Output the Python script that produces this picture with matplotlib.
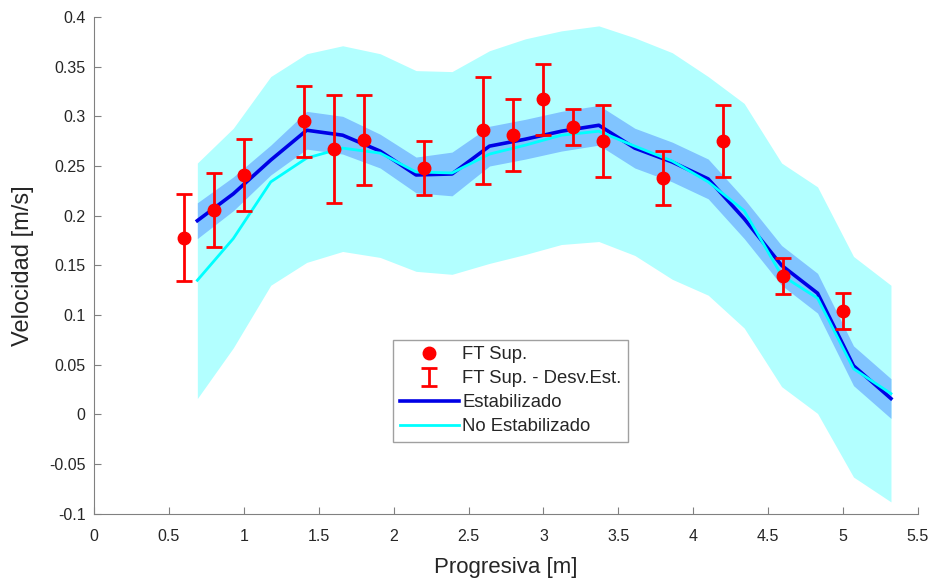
import matplotlib
matplotlib.use('Agg')
import matplotlib.pyplot as plt
import numpy as np

plt.rcParams['font.family'] = ['Liberation Sans', 'DejaVu Sans']

#%% Data
# progressive positions of the averaged curves
prog = [0.69, 0.93, 1.18, 1.42, 1.66, 1.91, 2.15, 2.39, 2.64, 2.88,
        3.12, 3.37, 3.61, 3.86, 4.10, 4.34, 4.59, 4.83, 5.07, 5.32]

# stabilized mean velocity and its band
v_estab = [0.195, 0.222, 0.256, 0.286, 0.281, 0.265, 0.241, 0.242, 0.270, 0.277,
           0.285, 0.291, 0.268, 0.254, 0.237, 0.197, 0.150, 0.122, 0.049, 0.016]
sd_estab = [0.018, 0.017, 0.015, 0.019, 0.019, 0.017, 0.018, 0.022, 0.020, 0.020,
            0.020, 0.020, 0.020, 0.020, 0.020, 0.020, 0.020, 0.020, 0.020, 0.020]

# non stabilized mean velocity and its band
v_noestab = [0.135, 0.177, 0.234, 0.258, 0.268, 0.263, 0.244, 0.243, 0.262, 0.271,
             0.281, 0.285, 0.270, 0.255, 0.234, 0.205, 0.140, 0.117, 0.046, 0.021]
band_up = [0.253, 0.288, 0.340, 0.363, 0.371, 0.363, 0.346, 0.345, 0.366, 0.378,
           0.386, 0.391, 0.379, 0.364, 0.340, 0.313, 0.253, 0.229, 0.159, 0.130]
band_low = [0.016, 0.067, 0.130, 0.153, 0.164, 0.158, 0.144, 0.141, 0.152, 0.161,
            0.171, 0.174, 0.160, 0.136, 0.120, 0.087, 0.028, 0.001, -0.063, -0.088]

# FT Sup. measurements
ft_x = [0.6, 0.8, 1.0, 1.4, 1.6, 1.8, 2.2, 2.6, 2.8, 3.0, 3.2, 3.4, 3.8, 4.2, 4.6, 5.0]
ft_v = [0.178, 0.206, 0.241, 0.295, 0.267, 0.276, 0.248, 0.286, 0.281, 0.317,
        0.289, 0.275, 0.238, 0.275, 0.139, 0.104]
ft_sd = [0.044, 0.037, 0.036, 0.036, 0.054, 0.045, 0.027, 0.054, 0.036, 0.036,
         0.018, 0.036, 0.027, 0.036, 0.018, 0.018]

#%% Plot
fig = plt.figure(figsize=(9.36, 5.78), dpi=100)
ax = fig.add_axes([0.1004, 0.111, 0.8803, 0.8597])

ax.fill_between(prog, band_low, band_up, color='#b2ffff', linewidth=0, zorder=1)
lo = np.array(v_estab) - np.array(sd_estab)
hi = np.array(v_estab) + np.array(sd_estab)
ax.fill_between(prog, lo, hi, color='#80c4ff', linewidth=0, zorder=2)
l1, = ax.plot(prog, v_estab, color='#0000e6', lw=2.6, zorder=3, label='Estabilizado')
l2, = ax.plot(prog, v_noestab, color='#00ffff', lw=2.0, zorder=4, label='No Estabilizado')

p1, = ax.plot(ft_x, ft_v, 'o', color='red', ms=9, zorder=6, label='FT Sup.')
eb = ax.errorbar(ft_x, ft_v, yerr=ft_sd, fmt='none', ecolor='red', elinewidth=2,
                 capsize=6, capthick=2, zorder=5, label='FT Sup. - Desv.Est.')

ax.set_xlim(0, 5.5)
ax.set_ylim(-0.1, 0.4)
ax.set_xticks(np.arange(0, 5.51, 0.5))
ax.set_xticklabels(['0', '0.5', '1', '1.5', '2', '2.5', '3', '3.5', '4', '4.5', '5', '5.5'])
ax.set_yticks(np.arange(-0.1, 0.401, 0.05))
ax.set_yticklabels(['-0.1', '-0.05', '0', '0.05', '0.1', '0.15', '0.2', '0.25',
                    '0.3', '0.35', '0.4'])

for s in ['top', 'right']:
    ax.spines[s].set_visible(False)
for s in ['left', 'bottom']:
    ax.spines[s].set_color('#808080')
ax.tick_params(direction='in', length=5, color='#808080', labelsize=11.5,
               labelcolor='#262626', pad=6)
ax.tick_params(axis='x', pad=11)

ax.set_xlabel('Progresiva [m]', fontsize=16, color='#262626', labelpad=9)
ax.set_ylabel('Velocidad [m/s]', fontsize=17, color='#262626', labelpad=11)

leg = ax.legend([p1, eb, l1, l2],
                ['FT Sup.', 'FT Sup. - Desv.Est.', 'Estabilizado', 'No Estabilizado'],
                loc='upper left', bbox_to_anchor=(0.363, 0.350), borderaxespad=0,
                fontsize=13.3, fancybox=False, framealpha=1, edgecolor='#a0a0a0',
                handlelength=3.2, labelspacing=0.38, handletextpad=0.2,
                borderpad=0.35)
for t in leg.get_texts():
    t.set_color('#262626')
leg.get_frame().set_linewidth(1.0)

fig.savefig('out.png', dpi=100)
